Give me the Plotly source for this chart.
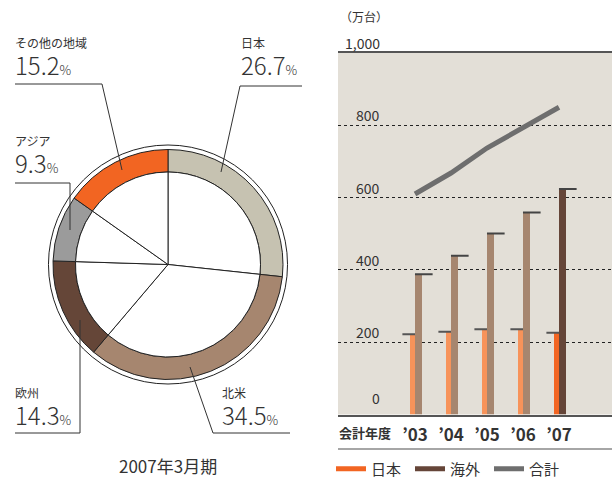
import plotly.graph_objects as go

# pie: regional share, 2007年3月期 (clockwise from 12 o'clock)
regions = ["日本", "北米", "欧州", "アジア", "その他の地域"]
region_share = [26.7, 34.5, 14.3, 9.3, 15.2]
region_colors = ["#c6c2b1", "#a6866f", "#654638", "#9b9b9b", "#f26522"]

# bars: units sold (万台)
years = ["’03", "’04", "’05", "’06", "’07"]
japan = [222, 229, 236, 236, 226]
overseas = [388, 439, 501, 559, 624]
total = [j + o for j, o in zip(japan, overseas)]
y_ticks = [0, 200, 400, 600, 800, 1000]
y_tick_text = ["0", "200", "400", "600", "800", "1,000"]

W, H = 612, 478
FONT = "Noto Sans CJK JP"
TXT = "#333333"


def px(x):
    return x / W


def py(y):
    return 1 - y / H


def circle_domain(cx, cy, r):
    return {"x": [px(cx - r), px(cx + r)], "y": [py(cy + r), py(cy - r)]}


fig = go.Figure()

# ---- donut ----
cx, cy = 168, 264.5
fig.add_trace(go.Pie(values=[1], marker=dict(colors=["white"], line=dict(color="#222", width=1)),
                     domain=circle_domain(cx, cy, 119.5), textinfo="none", hoverinfo="skip",
                     showlegend=False, sort=False))
fig.add_trace(go.Pie(labels=regions, values=region_share, hole=92.5 / 115,
                     marker=dict(colors=region_colors, line=dict(color="#222", width=1)),
                     domain=circle_domain(cx, cy, 115), textinfo="none", sort=False,
                     direction="clockwise", rotation=0, showlegend=False))
fig.add_trace(go.Pie(labels=regions, values=region_share,
                     marker=dict(colors=["white"] * 5, line=dict(color="#222", width=1)),
                     domain=circle_domain(cx, cy, 92.5), textinfo="none", sort=False,
                     direction="clockwise", rotation=0, showlegend=False, hoverinfo="skip"))

# ---- bars ----
xs = list(range(len(years)))
u = 1 / 36  # data units per pixel
jp_colors = ["#f7935a"] * 4 + ["#f26522"]
os_colors = ["#a6866f"] * 4 + ["#654538"]
fig.add_trace(go.Bar(x=xs, y=japan, width=5 * u, offset=-5 * u, marker_color=jp_colors,
                     marker_line_width=0, showlegend=False, name="日本"))
fig.add_trace(go.Bar(x=xs, y=overseas, width=7 * u, offset=0, marker_color=os_colors,
                     marker_line_width=0, showlegend=False, name="海外"))
# caps on top of the bars
fig.add_trace(go.Scatter(x=[x - 6.3 * u for x in xs], y=japan, mode="markers", hoverinfo="skip",
                         marker=dict(symbol="line-ew", size=9, line=dict(color="#555", width=2)),
                         showlegend=False))
fig.add_trace(go.Scatter(x=[x + 8.8 * u for x in xs], y=overseas, mode="markers", hoverinfo="skip",
                         marker=dict(symbol="line-ew", size=12.6, line=dict(color="#444", width=2)),
                         showlegend=False))
fig.add_trace(go.Scatter(x=xs, y=total, mode="lines", line=dict(color="#6e6e6e", width=5),
                         showlegend=False, name="合計"))

# legend entries
for name, color in [("日本", "#f26522"), ("海外", "#654538"), ("合計", "#6e6e6e")]:
    fig.add_trace(go.Scatter(x=[None], y=[None], mode="lines", name=name,
                             line=dict(color=color, width=5)))

fig.update_layout(
    width=W, height=H, margin=dict(l=0, r=0, t=0, b=0, autoexpand=False),
    paper_bgcolor="white", plot_bgcolor="#e3dfd7",
    font=dict(family=FONT, color=TXT, size=14),
    barmode="overlay",
    xaxis=dict(domain=[px(338), 1.0], range=[(338 - 415) * u, (612 - 415) * u],
               tickvals=xs, ticktext=years, showgrid=False, zeroline=False, tickangle=0,
               showline=True, linecolor="#555", linewidth=1.5, mirror=True, ticks="",
               tickfont=dict(size=17, weight="bold", color=TXT), ticklabelstandoff=4),
    yaxis=dict(domain=[py(414.5), py(53)], range=[0, 1000], tickvals=y_ticks[1:-1],
               showticklabels=False, showgrid=True, gridcolor="#222", gridwidth=1,
               griddash="3px,3px", zeroline=False, showline=False),
    legend=dict(orientation="h", x=px(331), y=py(469), yanchor="middle", xanchor="left",
                entrywidth=34, font=dict(size=15, color=TXT), itemwidth=30,
                bgcolor="rgba(0,0,0,0)", tracegroupgap=0),
    showlegend=True,
)

# y tick labels placed above grid lines, right aligned
for v, t in zip(y_ticks, y_tick_text):
    fig.add_annotation(x=(382 - 415) * u, y=v, xref="x", yref="y", text=t, showarrow=False,
                       xanchor="right", yanchor="middle", yshift=17 if v == 0 else 10,
                       font=dict(size=14, color=TXT))

fig.add_annotation(x=px(338), y=py(17), xref="paper", yref="paper", text="（万台）",
                   showarrow=False, xanchor="left", yanchor="middle", font=dict(size=12))
fig.add_annotation(x=px(337), y=py(432), xref="paper", yref="paper", text="<b>会計年度</b>",
                   showarrow=False, xanchor="left", yanchor="middle", font=dict(size=13))
fig.add_shape(type="line", xref="paper", yref="paper", x0=px(338), x1=1, y0=py(449), y1=py(449),
              line=dict(color="#888", width=1.5))

# pie labels: (name, value, left x, text bottom y, underline x0, x1, underline y, leader end)
pie_labels = [
    ("その他の地域", "15.2", 14, 83, 15, 102, 84, (102, 84), (122, 170)),
    ("日本", "26.7", 240, 83, 240, 302, 86, (240, 86), (221, 172)),
    ("アジア", "9.3", 14, 181, 15, 70, 183, (70, 183), (70, 230)),
    ("欧州", "14.3", 14, 433, 15, 80, 433, (80, 433), (80, 320)),
    ("北米", "34.5", 221, 433, 213, 290, 433, (213, 433), (190, 367)),
]
for name, val, lx, by, ux0, ux1, uy, p0, p1 in pie_labels:
    text = (f"<span style='font-size:12px'>{name}</span><br>"
            f"<span style='font-size:24px;font-weight:300'>{val}</span>"
            f"<span style='font-size:13px;font-weight:300'>%</span>")
    fig.add_annotation(x=px(lx), y=py(by), xref="paper", yref="paper", text=text,
                       showarrow=False, xanchor="left", yanchor="bottom", align="left",
                       borderpad=0, font=dict(size=21))
    fig.add_shape(type="line", xref="paper", yref="paper", x0=px(ux0), x1=px(ux1),
                  y0=py(uy), y1=py(uy), line=dict(color="#333", width=1))
    fig.add_shape(type="line", xref="paper", yref="paper", x0=px(p0[0]), x1=px(p1[0]),
                  y0=py(p0[1]), y1=py(p1[1]), line=dict(color="#333", width=1))

fig.add_annotation(x=px(168), y=py(465), xref="paper", yref="paper", text="2007年3月期",
                   showarrow=False, xanchor="center", yanchor="middle", font=dict(size=17))

# drop the default page margin so the figure sits at the window's top-left corner
fig.write_html("out.html", config={"displayModeBar": False},
               post_script="document.body.style.margin = '0';")
